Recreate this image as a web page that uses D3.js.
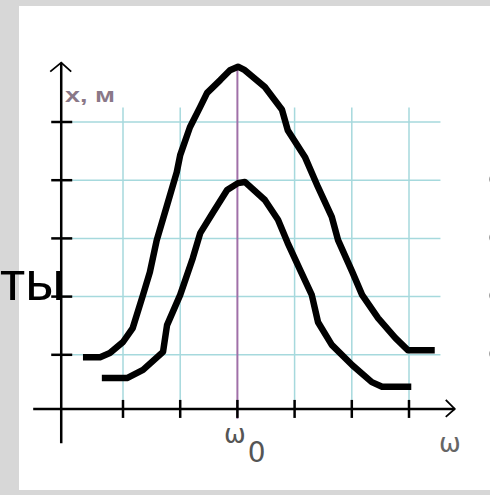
<!DOCTYPE html>
<html>
<head>
<meta charset="utf-8">
<script src="https://cdn.jsdelivr.net/npm/d3@7"></script>
<style>
html,body{margin:0;padding:0;background:#d7d7d7;}
svg{display:block;}
</style>
</head>
<body>
<svg id="chart" width="490" height="495"></svg>
<script>
// ---- data ----
const xTicks = [-2, -1, 0, 1, 2, 3];          // frequency grid (ω0 = 0)
const yTicks = [1, 2, 3, 4, 5];               // amplitude grid
const axisY = 0.07;                           // level of the ω axis
const axisX = -3.08;                          // position of the x axis
const upperCurve = [
  [-2.70,0.96],[-2.40,0.96],[-2.23,1.03],[-2.00,1.22],[-1.83,1.46],[-1.65,2.03],
  [-1.53,2.42],[-1.41,2.97],[-1.23,3.57],[-1.06,4.14],[-1.00,4.43],[-0.83,4.91],
  [-0.65,5.26],[-0.53,5.50],[-0.30,5.72],[-0.13,5.89],[0.01,5.95],[0.13,5.89],
  [0.48,5.60],[0.78,5.21],[0.88,4.86],[1.18,4.40],[1.41,3.88],[1.65,3.37],
  [1.76,2.97],[2.01,2.42],[2.18,2.03],[2.46,1.63],[2.76,1.29],[2.98,1.08],[3.45,1.08]
];
const lowerCurve = [
  [-2.37,0.60],[-1.93,0.60],[-1.65,0.74],[-1.30,1.05],[-1.23,1.51],[-1.00,2.03],
  [-0.78,2.66],[-0.65,3.09],[-0.43,3.44],[-0.18,3.83],[0.01,3.95],[0.13,3.97],
  [0.48,3.66],[0.71,3.32],[0.88,2.92],[1.10,2.45],[1.30,2.03],[1.41,1.56],
  [1.65,1.17],[2.01,0.82],[2.35,0.53],[2.53,0.45],[3.04,0.45]
];
const yLabel = "x, м";
const xLabel = "ω";
const centerLabel = "ω";
const centerSub = "0";
const sideText = "ты";

// ---- scales ----
const svg = d3.select("#chart");
const x = d3.scaleLinear().domain([-2, 3]).range([123, 409]);
const y = d3.scaleLinear().domain([0, 5]).range([413, 122]);

// slide background
svg.append("rect").attr("x",19).attr("y",6).attr("width",471).attr("height",484).attr("fill","#ffffff");

// grid
const gridColor = "#a6d9dd";
const grid = svg.append("g");
grid.selectAll("line.v").data(xTicks.filter(d => d !== 0)).join("line")
  .attr("x1", d => x(d)).attr("x2", d => x(d))
  .attr("y1", y(5.25)).attr("y2", y(axisY))
  .attr("stroke", gridColor).attr("stroke-width", 1.5);
grid.selectAll("line.h").data(yTicks).join("line")
  .attr("x1", x(axisX)).attr("x2", x(3.55))
  .attr("y1", d => y(d)).attr("y2", d => y(d))
  .attr("stroke", gridColor).attr("stroke-width", 1.5);

// centre (ω0) line
svg.append("line")
  .attr("x1", x(0)).attr("x2", x(0))
  .attr("y1", y(5.93)).attr("y2", y(-0.1))
  .attr("stroke", "#a070a8").attr("stroke-width", 2);

// axes
const ax = svg.append("g").attr("stroke", "#000").attr("fill","none");
ax.append("line").attr("x1", x(-3.57)).attr("x2", x(3.80)).attr("y1", y(axisY)).attr("y2", y(axisY)).attr("stroke-width", 2.5);
ax.append("line").attr("x1", x(axisX)).attr("x2", x(axisX)).attr("y1", y(-0.52)).attr("y2", y(6.02)).attr("stroke-width", 2.5);
// arrowheads
const xe = x(3.80), ye = y(axisY);
ax.append("path").attr("d", `M${xe-9},${ye-9}L${xe},${ye}L${xe-9},${ye+8}`).attr("stroke-width", 1.8);
const yx = x(axisX), yt = y(6.02);
ax.append("path").attr("d", `M${yx-11},${yt+9}L${yx},${yt}L${yx+10},${yt+9}`).attr("stroke-width", 1.8);
// ticks
ax.selectAll("line.xt").data(xTicks).join("line")
  .attr("x1", d => x(d)).attr("x2", d => x(d))
  .attr("y1", ye - 9).attr("y2", ye + 9).attr("stroke-width", 2.5);
ax.selectAll("line.yt").data(yTicks).join("line")
  .attr("x1", yx - 10).attr("x2", yx + 11)
  .attr("y1", d => y(d)).attr("y2", d => y(d)).attr("stroke-width", 2.5);

// curves
const line = d3.line().x(d => x(d[0])).y(d => y(d[1])).curve(d3.curveLinear);
[upperCurve, lowerCurve].forEach(c => {
  svg.append("path").attr("d", line(c)).attr("fill","none")
    .attr("stroke","#000").attr("stroke-width", 6.5)
    .attr("stroke-linejoin","round").attr("stroke-linecap","butt");
});

// labels
svg.append("text").attr("x", 65).attr("y", 102)
  .attr("font-family","Liberation Sans, Arial, sans-serif").attr("font-size", 20)
  .attr("font-weight","bold").attr("fill","#8a7888")
  .attr("textLength", 50).attr("lengthAdjust","spacingAndGlyphs")
  .text(yLabel);

const cl = svg.append("text").attr("x", 224).attr("y", 443)
  .attr("font-family","DejaVu Sans, sans-serif").attr("fill","#555");
cl.append("tspan").attr("font-size", 26).text(centerLabel);
cl.append("tspan").attr("font-size", 28).attr("dy", 19).attr("dx", 2).text(centerSub);

svg.append("text").attr("x", 439).attr("y", 452)
  .attr("font-family","DejaVu Sans, sans-serif").attr("font-size", 26).attr("fill","#666")
  .text(xLabel);

svg.append("text").attr("x", 0).attr("y", 300)
  .attr("font-family","Liberation Sans, Arial, sans-serif").attr("font-size", 55)
  .attr("fill","#000").text(sideText);

// bullets at the right edge
svg.selectAll("circle.b").data([4, 3, 2, 1]).join("circle")
  .attr("cx", 494).attr("cy", d => y(d) - 1).attr("r", 5).attr("fill","#a0a0a0");
</script>
</body>
</html>
